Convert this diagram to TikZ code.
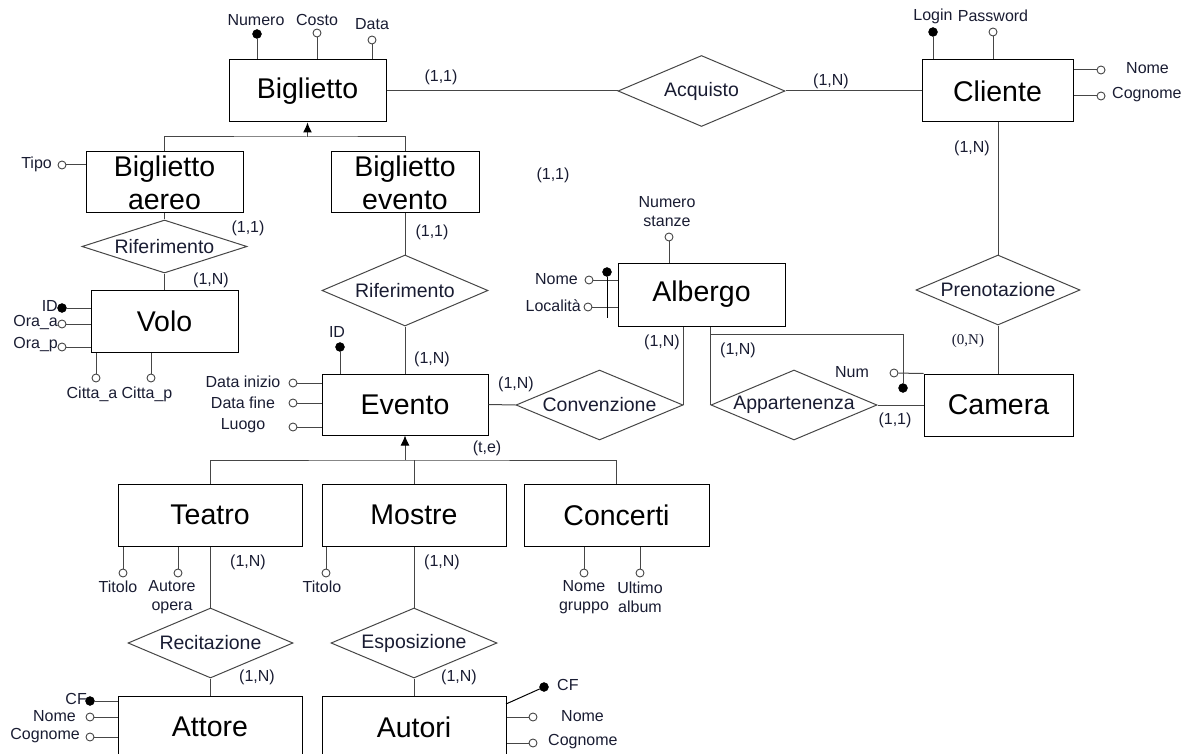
\documentclass[tikz,border=0pt]{standalone}
\usepackage{fontspec}
\setmainfont{Liberation Sans}
\newfontfamily\serifb{Liberation Serif}
\usetikzlibrary{shapes.geometric,arrows.meta,calc}
\definecolor{linec}{RGB}{70,70,70}
\definecolor{txt}{RGB}{25,28,50}
\begin{document}
\begin{tikzpicture}[x=1pt,y=-1pt,
 ent/.style={draw=black, line width=1pt, rectangle, inner sep=0pt, align=center,
   minimum width=184pt, minimum height=62pt, font=\fontsize{28.5pt}{33pt}\selectfont},
 rel/.style={draw=linec, line width=1pt, diamond, inner sep=0pt, minimum width=166pt, minimum height=70pt},
 reltxt/.style={font=\fontsize{19.5pt}{22pt}\selectfont, text=txt, inner sep=0pt},
 att/.style={circle, draw=linec, fill=white, line width=0.9pt, inner sep=0pt, minimum size=8pt},
 key/.style={circle, draw=black, fill=black, inner sep=0pt, minimum size=9pt},
 lbl/.style={font=\fontsize{16pt}{19pt}\selectfont, text=txt, inner sep=0pt, align=center},
 conn/.style={draw=linec, line width=1pt},
 isa/.style={conn, -{Latex[length=10pt,width=9pt,color=black]}},
]
\useasboundingbox (0,0) rectangle (1183,754);
\clip (0,0) rectangle (1183,754);

% ---------- entities ----------
\node[ent, minimum width=157pt] (bigl) at (307.5,91) {Biglietto};
\node[ent, minimum width=157pt, minimum height=61pt] (baereo) at (164.5,182.5) {Biglietto\\aereo};
\node[ent, minimum width=148pt, minimum height=61pt] (bevento) at (405,182.5) {Biglietto\\evento};
\node[ent, minimum width=147pt] (volo) at (164.5,321) {Volo};
\node[ent, minimum width=166pt, minimum height=61pt] (evento) at (405,404.5) {Evento};
\node[ent] (teatro) at (210,515) {Teatro};
\node[ent] (mostre) at (414,515) {Mostre};
\node[ent, minimum width=185pt] (concerti) at (616.5,515) {Concerti};
\node[ent] (attore) at (210,727) {Attore};
\node[ent] (autori) at (414,727) {Autori};
\node[ent, minimum width=151pt] (cliente) at (997.5,91) {Cliente};
\node[ent, minimum width=167pt, minimum height=63pt] (albergo) at (701.5,294.5) {Albergo};
\node[ent, minimum width=149pt] (camera) at (998.5,405) {Camera};

% ---------- relationships ----------
\node[rel, minimum width=165pt, minimum height=53pt] (rif1) at (164.5,246.5) {};
\node[reltxt] (rif1t) at (rif1) {Riferimento};
\node[rel, minimum height=71pt] (rif2) at (405,290.5) {};
\node[reltxt] (rif2t) at (rif2) {Riferimento};
\node[rel, minimum width=167pt, minimum height=71pt] (acq) at (701.5,91) {};
\node[reltxt] (acqt) at (acq) {Acquisto};
\node[rel, minimum width=164pt] (pren) at (998,290) {};
\node[reltxt] (prent) at (pren) {Prenotazione};
\node[rel, minimum width=167pt] (conv) at (599.5,405) {};
\node[reltxt] (convt) at (conv) {Convenzione};
\node[rel] (app) at (794,405) {};
\node[reltxt] (appt) at (app) {Appartenenza};
\node[rel, minimum width=165pt] (rec) at (210.5,643) {};
\node[reltxt] (rect) at (rec) {Recitazione};
\node[rel] (espo) at (414,643) {};
\node[reltxt] (espot) at (espo) {Esposizione};

% ---------- connectors ----------
\draw[conn] (bigl.east) -- (acq.west);
\draw[conn] (acq.east) -- (cliente.west);
\draw[conn] (pren.north |- cliente.south) -- (pren.north);
\draw[conn] (pren.south) -- (pren.south |- camera.north);
\draw[conn] (baereo.south) -- (rif1.north);
\draw[conn] (rif1.south) -- (rif1.south |- volo.north);
\draw[conn] (bevento.south) -- (rif2.north);
\draw[conn] (rif2.south) -- (evento.north);
\draw[conn] (evento.east) -- (conv.west);
\draw[conn] (conv.east) -- (conv.east |- albergo.south);
\draw[conn] (app.west) -- (app.west |- albergo.south);
\draw[conn] (app.east) -- (app.east -| camera.west);
\draw[conn] (teatro.south) -- (teatro.south |- rec.north);
\draw[conn] (rec.south) -- (rec.south |- attore.north);
\draw[conn] (mostre.south) -- (espo.north);
\draw[conn] (espo.south) -- (espo.south |- autori.north);

% generalisations
\coordinate (h1) at (307.5,137);
\draw[conn] (baereo.north) |- (h1) -| (bevento.north);
\draw[isa] (h1) -- (bigl.south);
\coordinate (h2) at (405,460);
\draw[conn] (teatro.north) |- (h2) -| (concerti.north);
\draw[conn] (mostre.north) -- (mostre.north |- h2);
\draw[isa] (h2) -- (evento.south);

% external identifier of Camera
\coordinate (ext1) at (711,334);
\node[key] (camk) at (903,388) {};
\draw[conn] (ext1) -| (camk);
\node[att] (num) at (894,373) {};
\draw[conn] (num) -- (camera.north west);
\node[lbl] (numl) at (852,372) {Num};

% ---------- attributes ----------
% Biglietto
\node[key] (bnum) at (257,34) {};
\draw[conn] (bnum) -- (bnum |- bigl.north);
\node[lbl] (bnuml) at (256,20) {Numero};
\node[att] (bcos) at (317,33) {};
\draw[conn] (bcos) -- (bcos |- bigl.north);
\node[lbl] (bcosl) at (317,20) {Costo};
\node[att] (bdat) at (372,40) {};
\draw[conn] (bdat) -- (bdat |- bigl.north);
\node[lbl] (bdatl) at (372,24) {Data};
% Cliente
\node[key] (clog) at (933,32) {};
\draw[conn] (clog) -- (clog |- cliente.north);
\node[lbl] (clogl) at (933,16) {Login};
\node[att] (cpw) at (993,32) {};
\draw[conn] (cpw) -- (cpw |- cliente.north);
\node[lbl] (cpwl) at (993,16) {Password};
\node[att] (cnom) at (1101,70) {};
\draw[conn] (cnom) -- (cnom -| cliente.east);
\node[lbl, anchor=west] (cnoml) at (1126,68) {Nome};
\node[att] (ccog) at (1101,96) {};
\draw[conn] (ccog) -- (ccog -| cliente.east);
\node[lbl, anchor=west] (ccogl) at (1112,95) {Cognome};
% Biglietto aereo
\node[att] (tipo) at (62,165) {};
\draw[conn] (tipo) -- (tipo -| baereo.west);
\node[lbl, anchor=east] (tipol) at (52,164) {Tipo};
% Volo
\node[key] (vid) at (62,308) {};
\draw[conn] (vid) -- (vid -| volo.west);
\node[lbl, anchor=east] (vidl) at (58,306) {ID};
\node[att] (vora) at (62,324) {};
\draw[conn] (vora) -- (vora -| volo.west);
\node[lbl, anchor=east] (voral) at (58,323) {Ora\_a};
\node[att] (vorp) at (62,347) {};
\draw[conn] (vorp) -- (vorp -| volo.west);
\node[lbl, anchor=east] (vorpl) at (58,345) {Ora\_p};
\node[att] (vca) at (96,378) {};
\draw[conn] (vca) -- (vca |- volo.south);
\node[lbl] (vcal) at (92,394) {Citta\_a};
\node[att] (vcp) at (151,378) {};
\draw[conn] (vcp) -- (vcp |- volo.south);
\node[lbl] (vcpl) at (147,394) {Citta\_p};
% Evento
\node[key] (eid) at (340,347) {};
\draw[conn] (eid) -- (eid |- evento.north);
\node[lbl] (eidl) at (337,332) {ID};
\node[att] (edi) at (293,383) {};
\draw[conn] (edi) -- (edi -| evento.west);
\node[lbl] (edil) at (243,382) {Data inizio};
\node[att] (edf) at (293,403) {};
\draw[conn] (edf) -- (edf -| evento.west);
\node[lbl] (edfl) at (243,403) {Data fine};
\node[att] (elu) at (293,427) {};
\draw[conn] (elu) -- (elu -| evento.west);
\node[lbl] (elul) at (243,426) {Luogo};
% Albergo
\node[att] (anum) at (669,237) {};
\draw[conn] (anum) -- (anum |- albergo.north);
\node[lbl] (anuml) at (667,212) {Numero\\stanze};
\node[att] (anom) at (589,280) {};
\draw[conn] (anom) -- (anom -| albergo.west);
\node[lbl, anchor=east] (anoml) at (578,279) {Nome};
\node[att] (aloc) at (588,307) {};
\draw[conn] (aloc) -- (aloc -| albergo.west);
\node[lbl, anchor=east] (alocl) at (581,306) {Località};
\node[key] (akey) at (607,272) {};
\coordinate (akeyend) at (607,318);
\draw[conn, draw=black] (akey) -- (akeyend);
% Teatro
\node[att] (ttit) at (123,573) {};
\draw[conn] (ttit) -- (ttit |- teatro.south);
\node[lbl] (ttitl) at (118,587) {Titolo};
\node[att] (taut) at (178,573) {};
\draw[conn] (taut) -- (taut |- teatro.south);
\node[lbl] (tautl) at (172,597) {Autore\\opera};
% Mostre
\node[att] (mtit) at (326,573) {};
\draw[conn] (mtit) -- (mtit |- mostre.south);
\node[lbl] (mtitl) at (322,587) {Titolo};
% Concerti
\node[att] (cng) at (584,573) {};
\draw[conn] (cng) -- (cng |- concerti.south);
\node[lbl] (cngl) at (584,597) {Nome\\gruppo};
\node[att] (cua) at (640,573) {};
\draw[conn] (cua) -- (cua |- concerti.south);
\node[lbl] (cual) at (640,597) {Ultimo\\album};
% Attore
\node[key] (atcf) at (90,701) {};
\draw[conn] (atcf) -- (atcf -| attore.west);
\node[lbl, anchor=east] (atcfl) at (87,699) {CF};
\node[att] (atno) at (90,717) {};
\draw[conn] (atno) -- (atno -| attore.west);
\node[lbl, anchor=east] (atnol) at (76,716) {Nome};
\node[att] (atco) at (90,737) {};
\draw[conn] (atco) -- (atco -| attore.west);
\node[lbl, anchor=east] (atcol) at (80,736) {Cognome};
% Autori
\node[key] (aucf) at (544,687) {};
\coordinate (aucfs) at (506,704);
\draw[conn, draw=black] (aucfs) -- (aucf);
\node[lbl, anchor=west] (aucfl) at (557,685) {CF};
\node[att] (auno) at (533,717) {};
\draw[conn] (auno) -- (auno -| autori.east);
\node[lbl, anchor=west] (aunol) at (561,716) {Nome};
\node[att] (auco) at (533,743) {};
\draw[conn] (auco) -- (auco -| autori.east);
\node[lbl, anchor=west] (aucol) at (548,742) {Cognome};

% ---------- cardinalities ----------
\node[lbl] (k1) at (441,77) {(1,1)};
\node[lbl] (k2) at (831,81) {(1,N)};
\node[lbl] (k3) at (972,148) {(1,N)};
\node[lbl] (k4) at (553,175) {(1,1)};
\node[lbl] (k5) at (248,228) {(1,1)};
\node[lbl] (k6) at (211,280) {(1,N)};
\node[lbl] (k7) at (432,232) {(1,1)};
\node[lbl] (k8) at (432,359) {(1,N)};
\node[lbl] (k9) at (516,384) {(1,N)};
\node[lbl] (k10) at (662,342) {(1,N)};
\node[lbl] (k11) at (738,350) {(1,N)};
\node[lbl, font=\serifb\fontsize{15pt}{18pt}\selectfont] (k12) at (968,341) {(0,N)};
\node[lbl] (k13) at (895,420) {(1,1)};
\node[lbl] (k14) at (487,448) {(t,e)};
\node[lbl] (k15) at (248,562) {(1,N)};
\node[lbl] (k16) at (257,677) {(1,N)};
\node[lbl] (k17) at (442,562) {(1,N)};
\node[lbl] (k18) at (459,677) {(1,N)};
\end{tikzpicture}
\end{document}
